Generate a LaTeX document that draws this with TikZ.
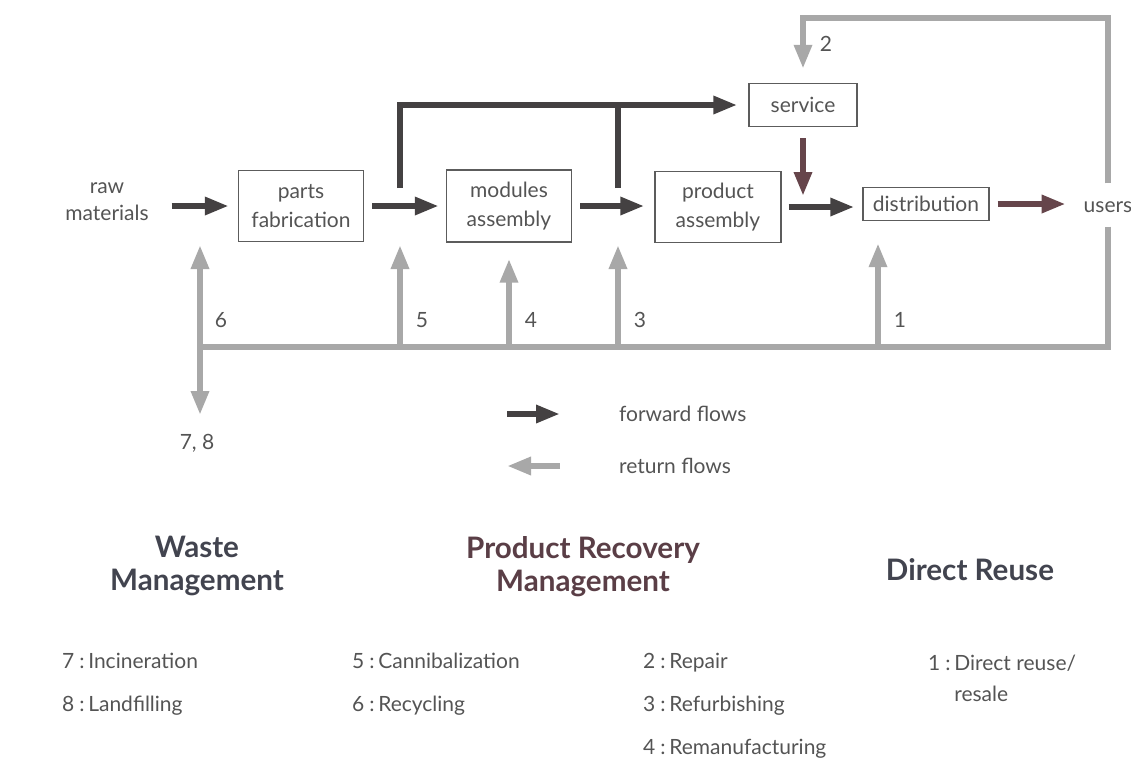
\documentclass[tikz,border=0pt]{standalone}
\usepackage{fontspec}
\setmainfont{Lato}
\usetikzlibrary{arrows.meta}

\definecolor{fwdc}{HTML}{444142}
\definecolor{fwdr}{HTML}{66454B}
\definecolor{retc}{HTML}{A8A8A8}
\definecolor{txtc}{HTML}{545454}
\definecolor{boxc}{HTML}{5C5C5C}
\definecolor{headc}{HTML}{42444F}
\definecolor{headr}{HTML}{5A3E46}

\newcommand{\numsep}[1]{#1\hspace{2.6pt}:\hspace{1.8pt}}

\begin{document}
\begin{tikzpicture}[x=0.5pt,y=-0.5pt,
  tip/.style={-{Triangle[length=12pt,width=8.5pt]}},
  fwd/.style={draw=fwdc, line width=3pt, tip},
  fwdline/.style={draw=fwdc, line width=3pt},
  ret/.style={draw=retc, line width=3pt, tip},
  retline/.style={draw=retc, line width=3pt},
  stepbox/.style={draw=boxc, line width=0.7pt, align=center, text=txtc,
    font=\fontsize{10.5}{14.5}\selectfont, inner sep=0pt},
  lbl/.style={text=txtc, font=\fontsize{10.5}{13.5}\selectfont, align=center},
  item/.style={text=txtc, font=\fontsize{10.5}{21.5}\selectfont, align=left, anchor=west},
  head/.style={font=\fontsize{14.8}{16.5}\selectfont\bfseries, align=center}
]
\useasboundingbox (0,0) rectangle (1131,762);

% process chain
\node[lbl] (raw) at (107,202) {raw\\materials};
\node[stepbox, minimum width=62.5pt, minimum height=35.5pt] (parts) at (301,206) {parts\\fabrication};
\node[stepbox, minimum width=62.5pt, minimum height=36pt] (modules) at (509,206) {modules\\assembly};
\node[stepbox, minimum width=63pt, minimum height=35.5pt] (product) at (718,207) {product\\assembly};
\node[stepbox, minimum width=63pt, minimum height=16.5pt] (distribution) at (926,204) {distribution};
\node[stepbox, minimum width=54pt, minimum height=21.5pt] (service) at (803,105) {service};
\node[lbl] (users) at (1108,207) {users};

% junction points
\coordinate (j5) at (400,188);
\coordinate (jb) at (618,105);
\coordinate (jb2) at (618,188);
\coordinate (sd) at (803,196);
\coordinate (ut) at (1108,18);
\coordinate (ub) at (1108,347);
\coordinate (j6) at (200,347);
\coordinate (r6t) at (200,245);
\coordinate (r6b) at (200,415);
\coordinate (r5) at (400,347);
\coordinate (r5t) at (400,245);
\coordinate (r4) at (509,347);
\coordinate (r3) at (618,347);
\coordinate (r3t) at (618,245);
\coordinate (r1) at (878,347);

% forward flows
\draw[fwd, shorten <=8pt, shorten >=4.5pt] (parts.west -| raw.east) -- (parts.west);
\draw[fwd, shorten <=4pt, shorten >=3.5pt] (parts.east) -- (modules.west);
\draw[fwd, shorten <=4pt, shorten >=5pt] (modules.east) -- (modules.east -| product.west);
\draw[fwd, shorten <=3.5pt, shorten >=4pt] (product.east) -- (product.east -| distribution.west);
\draw[fwd, draw=fwdr, shorten <=4pt, shorten >=5.5pt] (distribution.east) -- (distribution.east -| users.west);
\draw[fwd, shorten >=5.5pt] (j5) |- (service.west);
\draw[fwdline] (jb2) -- (jb);
\draw[fwd, draw=fwdr, shorten <=5.5pt] (service.south) -- (sd);

% return flows
\draw[ret, shorten <=5.5pt, shorten >=7pt] (users.north) -- (ut) -| (service.north);
\draw[retline, shorten <=3.5pt] (users.south) -- (ub) -- (j6);
\draw[ret, {Triangle[length=12pt,width=8.5pt]}-{Triangle[length=12pt,width=8.5pt]}] (r6b) -- (r6t);
\draw[ret] (r5) -- (r5t);
\draw[ret, shorten >=8pt] (r4) -- (modules.south);
\draw[ret] (r3) -- (r3t);
\draw[ret, shorten >=11pt] (r1) -- (r1 |- distribution.south);

% flow numbers
\node[lbl] (n2) at (826,44) {2};
\node[lbl] (n6) at (221,320) {6};
\node[lbl] (n5) at (422,320) {5};
\node[lbl] (n4) at (531,320) {4};
\node[lbl] (n3) at (640,320) {3};
\node[lbl] (n1) at (900,320) {1};
\node[lbl] (n78) at (197,443) {7, 8};

% legend
\coordinate (lf1) at (507,414);
\coordinate (lf2) at (560,414);
\coordinate (lr1) at (560,466);
\coordinate (lr2) at (507,466);
\draw[fwd] (lf1) -- (lf2);
\draw[ret] (lr1) -- (lr2);
\node[lbl, anchor=west] (lfwd) at (612,414) {forward flows};
\node[lbl, anchor=west] (lret) at (612,466) {return flows};

% categories
\node[head, text=headc] (hw) at (197,566) {Waste\\Management};
\node[head, text=headr] (hp) at (583,567) {Product Recovery\\Management};
\node[head, text=headc] (hd) at (970,570) {Direct Reuse};

\node[item] (iw) at (55,684) {\numsep{7}Incineration\\\numsep{8}Landfilling};
\node[item] (ip) at (345,684) {\numsep{5}Cannibalization\\\numsep{6}Recycling};
\node[item] (ir) at (636,706) {\numsep{2}Repair\\\numsep{3}Refurbishing\\\numsep{4}Remanufacturing};
\node[item, font=\fontsize{10.5}{15.5}\selectfont] (id) at (921,678) {\numsep{1}Direct reuse/\\\phantom{\numsep{1}}resale};
\end{tikzpicture}
\end{document}
